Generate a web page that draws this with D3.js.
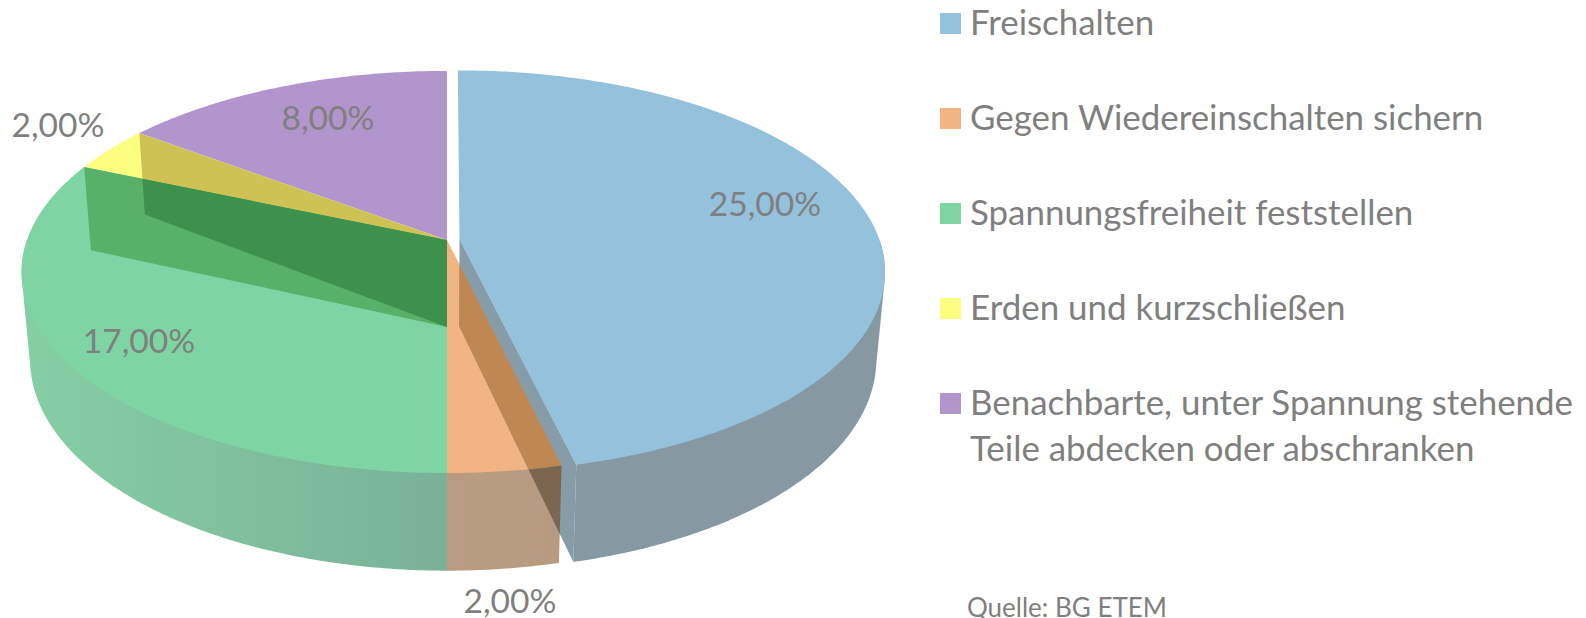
<!DOCTYPE html>
<html>
<head>
<meta charset="utf-8">
<style>
  html, body { margin: 0; padding: 0; background: #fff; overflow: hidden; }
  svg { display: block; }
  text { font-family: Lato, "Open Sans", sans-serif; fill: #7f7f7f; }
</style>
<script src="https://cdn.jsdelivr.net/npm/d3@7"></script>
</head>
<body>
<svg id="chart" width="1586" height="618"></svg>
<script>
const categories = [
  "Freischalten",
  "Gegen Wiedereinschalten sichern",
  "Spannungsfreiheit feststellen",
  "Erden und kurzschließen",
  "Benachbarte, unter Spannung stehende\nTeile abdecken oder abschranken"
]
const values = [25, 2, 17, 2, 8]
const exploded = [0.03, 0, 0, 0, 0]
const topColors = ["#94c1db", "#f1b482", "#7ed5a3", "#fdfd7f", "#b295cd"]

// pie is tilted in perspective, numbers fitted to the picture
const view = {cx: 447, cy: 240, rx: 420, ry: 196, depth: 88.7, tilt: 0.159, sink: 0.02}
const labelAt = [[765, 204], [510, 601], [139, 341], [58, 125], [328, 118]]

const svg = d3.select("#chart")
const defs = svg.append("defs")
const color = d3.scaleOrdinal().domain(categories).range(topColors)
const slices = d3.pie().sort(null)(values)
const pct = d3.formatLocale({decimal: ",", thousands: ".", grouping: [3], currency: ["", "€"]}).format(".2f")
const path = d3.line()

function project(X, Y, Z) {
  const w = 1 - view.tilt * Y + view.sink * Z
  return [view.cx + view.rx * X / w, view.cy + (view.ry * Y + view.depth * Z) / w]
}

function offset(d, i) {
  const mid = (d.startAngle + d.endAngle) / 2
  return [exploded[i] * Math.sin(mid), -exploded[i] * Math.cos(mid)]
}

function rim(d, i, Z) {
  const [ox, oy] = offset(d, i)
  const angles = d3.range(d.startAngle, d.endAngle, 0.01).concat(d.endAngle)
  return angles.map(a => project(Math.sin(a) + ox, -Math.cos(a) + oy, Z))
}

const apex = (d, i, Z) => project(...offset(d, i), Z)
const topFace = (d, i) => path([apex(d, i, 0), ...rim(d, i, 0)]) + "Z"
const outerWall = (d, i) => path([...rim(d, i, 0), ...rim(d, i, 1).reverse()]) + "Z"

// the polygon folds over at the silhouette, so fill the hull of the near part
// instead; the top faces are painted over whatever it covers too much
function outerHull(d, i) {
  const near = [...rim(d, i, 0), ...rim(d, i, 1)].filter(p => p[1] >= view.cy)
  return path(d3.polygonHull(near)) + "Z"
}

// wall along the radius at one angle of a slice
function radialWall(d, i, angle) {
  const [ox, oy] = offset(d, i)
  const edge = Z => project(Math.sin(angle) + ox, -Math.cos(angle) + oy, Z)
  return path([apex(d, i, 0), edge(0), edge(1), apex(d, i, 1)]) + "Z"
}

function addClip(id, d) {
  defs.append("clipPath").attr("id", id).append("path").attr("d", d)
}

const sideGreen = defs.append("linearGradient")
  .attr("id", "side-green")
  .attr("gradientUnits", "userSpaceOnUse")
  .attr("x1", view.cx - 426).attr("x2", view.cx).attr("y1", 0).attr("y2", 0)
sideGreen.append("stop").attr("offset", 0).attr("stop-color", "#85cfa5")
sideGreen.append("stop").attr("offset", 1).attr("stop-color", "#7ab197")

const sideOrange = defs.append("linearGradient")
  .attr("id", "side-orange")
  .attr("gradientUnits", "userSpaceOnUse")
  .attr("x1", view.cx).attr("x2", view.cx + 115).attr("y1", 0).attr("y2", 0)
sideOrange.append("stop").attr("offset", 0).attr("stop-color", "#b99c82")
sideOrange.append("stop").attr("offset", 1).attr("stop-color", "#b79a80")

const wallFill = ["#8699a3", "url(#side-orange)", "url(#side-green)"]

const pie = svg.append("g").attr("class", "pie")

pie.selectAll(".outer")
  .data(slices.slice(0, 3))
  .join("path")
  .attr("class", "outer")
  .attr("d", outerHull)
  .attr("fill", (d, i) => wallFill[i])

pie.selectAll(".top")
  .data(slices)
  .join("path")
  .attr("class", "top")
  .attr("d", topFace)
  .attr("fill", (d, i) => color(categories[i]))

const [blue, orange, green, yellow] = slices
addClip("on-orange-top", topFace(orange, 1))
addClip("on-orange-wall", outerWall(orange, 1))
addClip("on-green-top", topFace(green, 2))
addClip("on-yellow-top", topFace(yellow, 3))

// inner walls show through the glass surfaces
const blueWall = radialWall(blue, 0, blue.endAngle)
pie.append("path").attr("d", blueWall).attr("fill", "#869ca9")
pie.append("path").attr("d", blueWall).attr("fill", "#bf8752").attr("clip-path", "url(#on-orange-top)")
pie.append("path").attr("d", blueWall).attr("fill", "#7c6650").attr("clip-path", "url(#on-orange-wall)")

pie.append("path").attr("d", radialWall(green, 2, green.endAngle)).attr("fill", "#58b168")

const yellowWall = radialWall(yellow, 3, yellow.endAngle)
pie.append("path").attr("d", yellowWall).attr("fill", "#cdc253").attr("clip-path", "url(#on-yellow-top)")
pie.append("path").attr("d", yellowWall).attr("fill", "#3d914d").attr("clip-path", "url(#on-green-top)")

svg.append("g").selectAll("text")
  .data(values)
  .join("text")
  .attr("x", (d, i) => labelAt[i][0])
  .attr("y", (d, i) => labelAt[i][1])
  .attr("dy", "0.35em")
  .attr("text-anchor", "middle")
  .attr("font-size", 33.6)
  .text(d => pct(d) + "%")

const legend = svg.append("g").attr("class", "legend")
const rowY = d3.scalePoint().domain(categories).range([34, 414])

const rows = legend.selectAll("g")
  .data(categories)
  .join("g")
  .attr("transform", d => `translate(940, ${rowY(d)})`)

rows.append("rect")
  .attr("y", -21)
  .attr("width", 21)
  .attr("height", 21)
  .attr("fill", d => color(d))

rows.append("text")
  .attr("y", 1)
  .attr("font-size", 34.9)
  .selectAll("tspan")
  .data(d => d.split("\n"))
  .join("tspan")
  .attr("x", 30)
  .attr("dy", (d, i) => i ? 46 : 0)
  .text(d => d)

svg.append("text")
  .attr("x", 967)
  .attr("y", 617)
  .attr("font-size", 26)
  .text("Quelle: BG ETEM")
</script>
</body>
</html>
